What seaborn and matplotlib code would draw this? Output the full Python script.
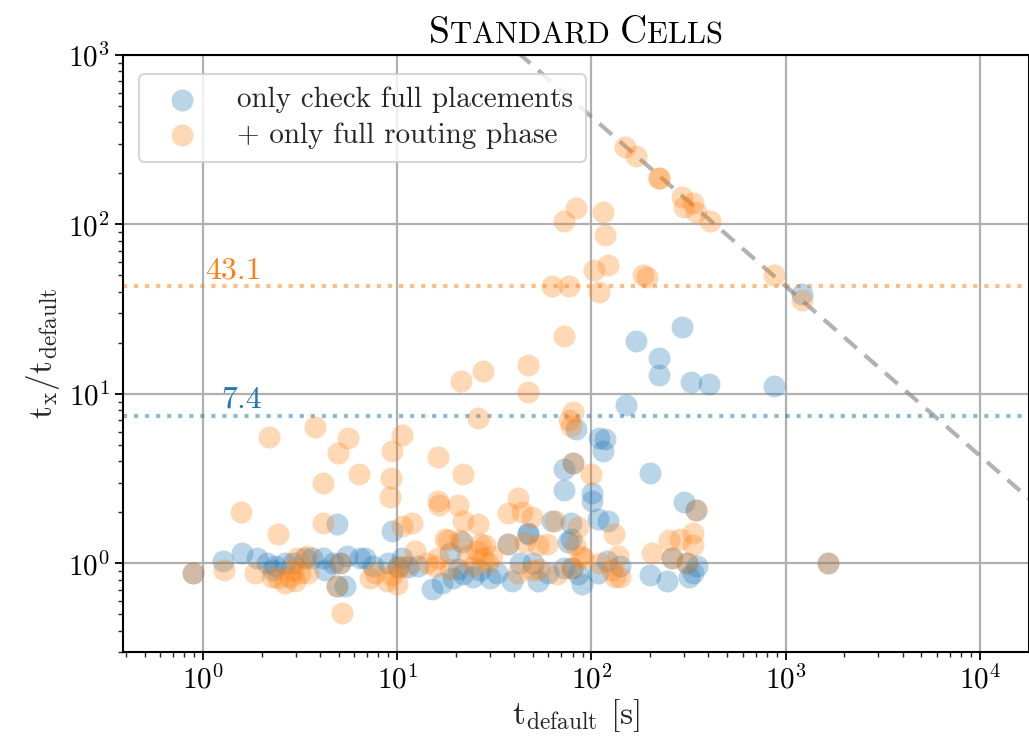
import matplotlib
matplotlib.use("Agg")
import matplotlib.pyplot as plt
import numpy as np
import pandas as pd
import seaborn as sns
from matplotlib.offsetbox import AnchoredOffsetbox, HPacker, TextArea

# ─── Data ───
blue_x = [0.89, 1.27, 1.59, 1.90, 2.14, 2.35, 2.29, 2.64, 2.91, 3.36, 3.64, 4.16, 4.25,
          4.67, 5.09, 5.53, 6.44, 4.9, 5.4, 4.9, 6.8, 9.4, 7.5, 9.0, 10.6, 11.4, 10.1,
          12.8, 15.1, 17.0, 18.8, 19.4, 20.6, 21.8, 21.6, 24.5, 26.8, 30.1, 32.7, 47.3,
          37.2, 43, 39, 50, 53, 60, 71.8, 75.9, 85.5, 89.6, 79.6, 120, 141, 108, 201,
          245, 261, 312, 333, 350, 316, 71.8, 101, 101, 298, 344, 108, 122, 78, 78, 63,
          72, 80.8, 201, 83.7, 109.6, 117, 115, 151, 170, 294, 224, 224, 326, 405, 868,
          1220, 1660, 46.9]
blue_y = [0.88, 1.04, 1.15, 1.08, 1.0, 0.97, 0.91, 1.0, 1.01, 1.07, 1.08, 1.08, 0.91,
          1.01, 1.0, 1.11, 1.08, 0.74, 0.74, 1.7, 1.08, 1.55, 0.97, 1.01, 1.07, 0.95, 0.95,
          0.97, 0.71, 0.77, 1.15, 0.82, 0.93, 0.87, 1.33, 0.83, 0.91, 0.82, 0.88, 1.52,
          1.31, 1.0, 0.79, 1.0, 0.79, 0.88, 0.94, 1.33, 0.87, 0.76, 0.94, 1.04, 0.97, 0.88, 0.85,
          0.79, 1.07, 1.01, 0.88, 0.97, 0.83, 2.7, 2.59, 2.35, 2.29, 2.06, 1.84, 1.79, 1.72, 1.40, 1.79,
          3.6, 3.9, 3.4, 6.25, 5.5, 5.4, 4.6, 8.56, 20.4, 24.7, 16.4, 13.0, 11.7, 11.4, 11.1,
          39, 1.01, 1.50]

orange_x = [0.89, 1.28, 1.85, 2.27, 2.43, 2.64, 2.81, 2.98, 2.91, 3.16, 3.05, 3.44, 3.47,
            5.09, 4.9, 5.2, 7.25, 7.7, 8.9, 9.4, 10.0, 10.1, 11.0, 12.4, 14.3, 15.7, 16.2,
            17.7, 18.8, 21.0, 22.9, 24.5, 25.8, 27.5, 28.4, 29.5, 30.9, 37.2, 45.6, 42, 49.6,
            54, 59, 66.5, 82, 87.9, 90.6, 79.6, 111, 128, 132, 137, 141, 130, 206, 261, 250,
            287, 333, 335, 312, 1660, 344, 2.43, 4.16, 1.57, 4.16,
            2.19, 3.78, 5.6, 4.96, 6.36, 10.6, 9.4, 9.3, 9.2, 10.6, 11.9, 16.5, 20.6, 21.9,
            26.0, 42, 37.2, 44, 49.6, 65, 53, 18.3, 26.8, 85,
            83.7, 72.6, 115, 117, 122, 103, 109.5, 62.8, 77, 184.5, 72, 46.9, 47.4, 27.7,
            21.4, 26.1, 16.3, 21.7, 16.3, 80.8, 77, 78, 100, 80.8, 149, 170, 224, 224, 294,
            300, 333, 344, 409, 194, 868, 1220]
orange_y = [0.88, 0.91, 0.88, 0.83, 0.82, 0.77, 0.83, 0.79, 0.91, 0.88, 1.07, 1.11, 0.88,
            1.0, 0.74, 0.51, 0.82, 0.88, 0.79, 0.85, 0.76, 0.95, 0.97, 1.19, 1.01, 0.97, 1.07,
            1.40, 0.93, 1.37, 1.11, 0.97, 1.19, 1.08, 1.28, 1.0, 1.11, 1.31, 1.33, 0.88, 0.91,
            0.93, 1.31, 0.87, 1.28, 1.11, 1.07, 0.94, 1.01, 0.91, 0.83, 1.11, 0.83, 1.50, 1.15, 1.07, 1.37,
            1.40, 1.52, 1.28, 1.01, 1.0, 2.06, 1.50, 1.72, 2.0, 2.97,
            5.6, 6.35, 5.47, 4.46, 3.39, 5.7, 4.58, 3.17, 2.45, 1.67, 1.72, 2.2, 2.2, 1.79,
            1.7, 2.42, 1.97, 2.0, 1.87, 1.79, 1.28, 1.37, 1.31, 1.63,
            125.5, 105, 119, 87, 58, 54, 40, 43.6, 43.6, 50, 22, 14.9, 10.3, 13.7,
            12.0, 7.2, 4.27, 3.35, 2.35, 7.8, 7.0, 6.5, 3.35, 3.9, 285, 253, 189, 189, 146,
            126, 133, 118, 105, 49, 50, 36]

blue_label = "only check full placements"
orange_label = "+ only full routing phase"
blue_mean = 7.4
orange_mean = 43.1
timeout = 43200  # seconds
line_x = [10, 1e5]

BLUE = "tab:blue"
ORANGE = "tab:orange"


def main():
    sns.set_theme(style="ticks")
    plt.rcParams["font.family"] = ["cmr10", "DejaVu Serif"]
    plt.rcParams["mathtext.fontset"] = "cm"
    plt.rcParams["axes.formatter.use_mathtext"] = True
    plt.rcParams["axes.unicode_minus"] = False

    fig = plt.figure(figsize=(10.29, 7.49), dpi=100)
    ax = fig.add_axes([0.1195, 0.1295, 0.8805, 0.7971])

    ax.set_xscale("log")
    ax.set_yscale("log")
    ax.set_xlim(0.387, 17900)
    ax.set_ylim(0.3, 1000)
    ax.grid(True, which="major", color="#b0b0b0", linewidth=1.6, zorder=0)
    ax.set_axisbelow(True)

    sns.scatterplot(x=blue_x, y=blue_y, ax=ax, color=BLUE, s=250, alpha=0.3,
                    linewidth=0, label=blue_label, zorder=3)
    sns.scatterplot(x=orange_x, y=orange_y, ax=ax, color=ORANGE, s=250, alpha=0.3,
                    linewidth=0, label=orange_label, zorder=3)

    # mean lines
    ax.axhline(blue_mean, color=BLUE, alpha=0.5, linestyle=":", linewidth=3, zorder=2)
    ax.axhline(orange_mean, color=ORANGE, alpha=0.5, linestyle=":", linewidth=3, zorder=2)
    ax.text(2.0, blue_mean * 1.03, f"{blue_mean}", color=BLUE, ha="right", va="bottom",
            fontsize=23)
    ax.text(2.0, orange_mean * 1.03, f"{orange_mean}", color=ORANGE, ha="right", va="bottom",
            fontsize=23)

    # timeout line
    ax.plot(line_x, [timeout / v for v in line_x], color="gray", alpha=0.6,
            linestyle=(0, (4, 2.5)), linewidth=3, zorder=2)

    for side in ["top", "right", "left", "bottom"]:
        ax.spines[side].set_visible(True)
        ax.spines[side].set_color("black")
        ax.spines[side].set_linewidth(1.5)
    ax.tick_params(which="major", direction="out", length=6, width=1.3, labelsize=21,
                   colors="black")
    ax.tick_params(which="minor", direction="out", length=3.5, width=1.0)

    ax.set_xlabel(r"$\mathrm{t_{default}}$ [s]", fontsize=24, labelpad=2)
    ax.set_ylabel(r"$\mathrm{t_x/t_{default}}$", fontsize=24, labelpad=4)

    leg = ax.legend(loc="upper left", fontsize=21, frameon=True, fancybox=True,
                    handletextpad=0.9, borderpad=0.45, labelspacing=0.3,
                    bbox_to_anchor=(0.002, 0.993))
    leg.get_frame().set_edgecolor("#cccccc")
    leg.get_frame().set_linewidth(1.5)
    leg.get_frame().set_alpha(0.8)

    # small caps title
    big = dict(size=27, color="black", family="cmr10")
    small = dict(size=22, color="black", family="cmr10")
    parts = [TextArea("S", textprops=big), TextArea("TANDARD ", textprops=small),
             TextArea("C", textprops=big), TextArea("ELLS", textprops=small)]
    box = HPacker(children=parts, align="baseline", pad=0, sep=0)
    anchored = AnchoredOffsetbox(loc="lower center", child=box, frameon=False,
                                 bbox_to_anchor=(0.5, 1.008), bbox_transform=ax.transAxes,
                                 borderpad=0.0, pad=0.0)
    ax.add_artist(anchored)

    fig.savefig("out.png", dpi=100)
    plt.close(fig)


if __name__ == "__main__":
    main()
